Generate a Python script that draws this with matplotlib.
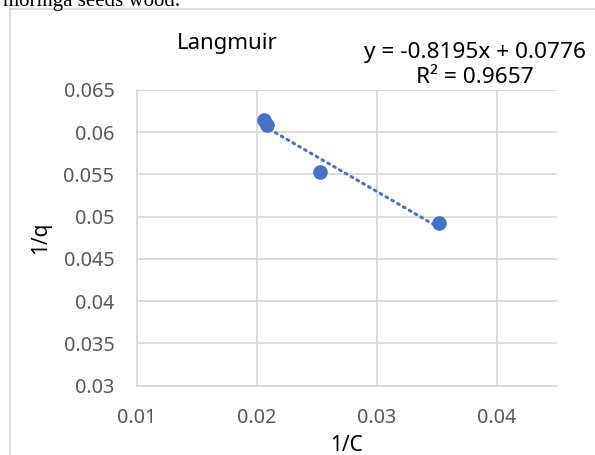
import numpy as np
import matplotlib
matplotlib.use('Agg')
import matplotlib.pyplot as plt
from matplotlib.lines import Line2D

# values
inv_c = [0.0206, 0.0209, 0.0253, 0.0352]
inv_q = [0.0614, 0.0609, 0.0553, 0.0492]
x_ticks = [0.01, 0.02, 0.03, 0.04]
x_labels = ['0.01', '0.02', '0.03', '0.04']
y_ticks = [0.03, 0.035, 0.04, 0.045, 0.05, 0.055, 0.06, 0.065]
y_labels = ['0.03', '0.035', '0.04', '0.045', '0.05', '0.055', '0.06', '0.065']
eq_text = 'y = -0.8195x + 0.0776\nR² = 0.9657'

blue = '#4472C4'
grid_c = '#D9D9D9'
plt.rcParams['font.family'] = ['Noto Sans', 'DejaVu Sans']

fig = plt.figure(figsize=(5.95, 4.55), dpi=100)
ax = fig.add_axes([0.2297, 0.1527, 0.7059, 0.6495])

# linear trend line between min and max x
k, b = np.polyfit(inv_c, inv_q, 1)
xs = np.array([min(inv_c), max(inv_c)])
ax.plot(xs, k * xs + b, color=blue, lw=2.2, linestyle=(0, (0.6, 1.6)),
        dash_capstyle='round', zorder=3)
ax.plot(inv_c, inv_q, 'o', color=blue, ms=10.5, mec='none', zorder=4)

ax.set_xlim(0.01, 0.045)
ax.set_ylim(0.03, 0.065)
ax.set_xticks(x_ticks)
ax.set_xticklabels(x_labels)
ax.set_yticks(y_ticks)
ax.set_yticklabels(y_labels)
ax.tick_params(length=0, labelsize=14.3, labelcolor='#595959', pad=16)
ax.grid(True, color=grid_c, lw=1.3)
ax.set_axisbelow(True)
for s in ['top', 'right']:
    ax.spines[s].set_visible(False)
for s in ['left', 'bottom']:
    ax.spines[s].set_color(grid_c)
    ax.spines[s].set_linewidth(1.3)

ax.set_xlabel('1/C', fontsize=15, labelpad=5)
ax.set_ylabel('1/q', fontsize=15, labelpad=9)

fig.text(227 / 595, 1 - 43 / 455, 'Langmuir', fontsize=16, ha='center', va='center')
fig.text(475 / 595, 1 - 65 / 455, eq_text, fontsize=16.3, ha='center', va='center',
         linespacing=1.22)

# chart area border and clipped caption from the page
fig.add_artist(Line2D([10 / 595, 10 / 595], [0, 1 - 9 / 455], color=grid_c, lw=1.3,
                      transform=fig.transFigure))
fig.add_artist(Line2D([10 / 595, 1], [1 - 9 / 455, 1 - 9 / 455], color=grid_c, lw=1.3,
                      transform=fig.transFigure))
fig.text(3 / 595, 1 - 6 / 455, 'moringa seeds wood.', fontsize=15,
         family='Liberation Serif', va='baseline')

fig.savefig('out.png', dpi=100)
